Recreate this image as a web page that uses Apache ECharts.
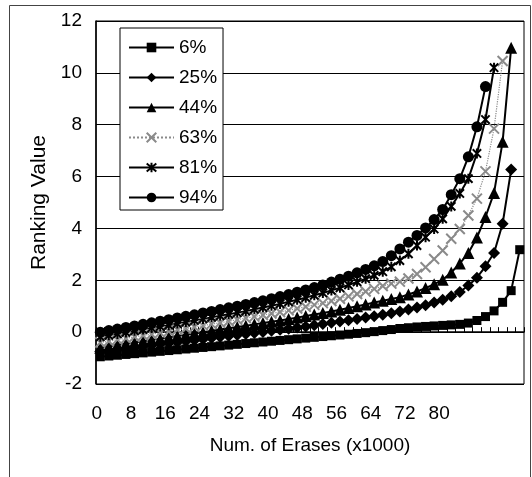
<!DOCTYPE html>
<html>
<head>
<meta charset="utf-8">
<script src="https://cdn.jsdelivr.net/npm/echarts@6/dist/echarts.min.js"></script>
<style>
html,body{margin:0;padding:0;background:#fff;}
#chart{width:532px;height:477px;}
</style>
</head>
<body>
<div id="chart"></div>
<script>
// Categories: Num. of Erases (x1000)
var categories = [0,2,4,6,8,10,12,14,16,18,20,22,24,26,28,30,32,34,36,38,40,42,44,46,48,50,52,54,56,58,60,62,64,66,68,70,72,74,76,78,80,82,84,86,88,90,92,94,96,98];
var xTickLabels = ['0','8','16','24','32','40','48','56','64','72','80'];
var yTicks = [-2,0,2,4,6,8,10,12];
var seriesNames = ['6%','25%','44%','63%','81%','94%'];

var s6 = [-0.95,-0.92,-0.89,-0.86,-0.83,-0.80,-0.77,-0.74,-0.71,-0.68,-0.65,-0.62,-0.59,-0.56,-0.53,-0.50,-0.47,-0.44,-0.41,-0.38,-0.35,-0.32,-0.29,-0.26,-0.23,-0.20,-0.17,-0.14,-0.11,-0.08,-0.05,-0.02,0.02,0.06,0.10,0.14,0.17,0.20,0.22,0.24,0.26,0.28,0.30,0.35,0.45,0.60,0.82,1.15,1.60,3.18];
var s25 = [-0.75,-0.71,-0.67,-0.63,-0.59,-0.55,-0.51,-0.47,-0.43,-0.39,-0.35,-0.31,-0.27,-0.23,-0.19,-0.15,-0.11,-0.07,-0.03,0.01,0.05,0.09,0.13,0.18,0.22,0.27,0.31,0.36,0.41,0.46,0.51,0.56,0.61,0.67,0.73,0.80,0.87,0.95,1.04,1.14,1.25,1.38,1.55,1.80,2.10,2.54,3.05,4.18,6.27];
var s44 = [-0.60,-0.55,-0.50,-0.45,-0.40,-0.35,-0.30,-0.25,-0.20,-0.15,-0.10,-0.05,0.00,0.05,0.10,0.15,0.20,0.25,0.30,0.35,0.40,0.45,0.51,0.56,0.62,0.68,0.74,0.80,0.86,0.93,1.00,1.07,1.14,1.21,1.28,1.35,1.45,1.57,1.70,1.85,2.02,2.30,2.65,3.05,3.65,4.44,5.37,7.34,10.97];
var s63 = [-0.40,-0.35,-0.29,-0.24,-0.18,-0.13,-0.08,-0.02,0.03,0.09,0.14,0.20,0.25,0.31,0.36,0.42,0.48,0.54,0.60,0.66,0.72,0.78,0.84,0.91,0.98,1.05,1.12,1.20,1.29,1.38,1.47,1.57,1.67,1.78,1.87,1.95,2.07,2.24,2.50,2.82,3.15,3.60,3.98,4.50,5.15,6.20,7.85,10.46];
var s81 = [-0.18,-0.12,-0.07,-0.01,0.05,0.10,0.16,0.22,0.27,0.33,0.39,0.45,0.51,0.57,0.63,0.69,0.75,0.81,0.88,0.95,1.02,1.09,1.17,1.25,1.33,1.42,1.51,1.61,1.71,1.82,1.94,2.06,2.19,2.33,2.52,2.76,3.02,3.34,3.66,3.98,4.37,4.85,5.35,5.92,6.89,8.20,10.20];
var s94 = [0.00,0.06,0.12,0.18,0.24,0.30,0.36,0.42,0.48,0.55,0.61,0.67,0.74,0.80,0.87,0.94,1.00,1.07,1.14,1.21,1.29,1.37,1.45,1.54,1.63,1.72,1.82,1.93,2.04,2.16,2.29,2.42,2.56,2.72,2.95,3.21,3.47,3.73,4.02,4.34,4.73,5.30,5.92,6.76,7.92,9.47];

var FONT = '"Liberation Sans", Arial, sans-serif';
var xPath = 'path://M0,0L10,10M10,0L0,10';
var starPath = 'path://M0,0L10,10M10,0L0,10M5,-1L5,11';

function mk(name, data, symbol, size, color, lineType, lw) {
  var isPath = symbol.indexOf('path://') === 0;
  return {
    name: name, type: 'line', data: data,
    symbol: symbol, symbolSize: size, symbolKeepAspect: true,
    showSymbol: true, showAllSymbol: true, animation: false,
    lineStyle: {color: color, width: lw, type: lineType},
    itemStyle: isPath ? {color: color, borderColor: color, borderWidth: 2} : {color: color, borderWidth: 0}
  };
}

var chart = echarts.init(document.getElementById('chart'), null, {renderer: 'canvas'});
chart.setOption({
  backgroundColor: '#fff',
  animation: false,
  textStyle: {fontFamily: FONT},
  graphic: [{
    type: 'rect', silent: true,
    shape: {x: 9.5, y: 5.5, width: 521, height: 490},
    style: {fill: 'none', stroke: '#444', lineWidth: 1}
  }],
  grid: {left: 96, right: 8, top: 21, bottom: 93, show: true, borderColor: '#000', borderWidth: 1, backgroundColor: '#fff'},
  legend: {
    left: 120, top: 28, orient: 'vertical',
    data: seriesNames,
    backgroundColor: '#fff', borderColor: '#000', borderWidth: 1,
    padding: [10, 6, 3, 8],
    itemWidth: 45, itemHeight: 12, itemGap: 11,
    textStyle: {fontSize: 19, color: '#000', fontFamily: FONT, lineHeight: 19}
  },
  xAxis: {
    type: 'category', data: categories, boundaryGap: true,
    name: 'Num. of Erases (x1000)', nameLocation: 'middle', nameGap: 52,
    nameTextStyle: {fontSize: 19, color: '#000', fontFamily: FONT},
    axisLine: {lineStyle: {color: '#000', width: 1.5}},
    axisTick: {show: true, inside: true, length: 5, interval: 0, lineStyle: {color: '#000'}},
    axisLabel: {
      interval: 3, margin: 20, fontSize: 19, color: '#000', fontFamily: FONT,
      padding: [0, 7, 0, 0],
      formatter: function (v) { return xTickLabels.indexOf(String(v)) >= 0 ? String(v) : ''; }
    },
    splitLine: {show: false}
  },
  yAxis: {
    type: 'value', min: yTicks[0], max: yTicks[yTicks.length - 1], interval: 2,
    name: 'Ranking Value', nameLocation: 'middle', nameGap: 46,
    nameTextStyle: {fontSize: 21, color: '#000', fontFamily: FONT},
    axisLine: {show: true, lineStyle: {color: '#000', width: 1.5}},
    axisTick: {show: false},
    axisLabel: {margin: 14, fontSize: 19, color: '#000', fontFamily: FONT},
    splitLine: {show: true, lineStyle: {color: '#000', width: 1}}
  },
  series: [
    mk('6%', s6, 'rect', 9, '#000', 'solid', 2),
    mk('25%', s25, 'diamond', 12, '#000', 'solid', 2),
    mk('44%', s44, 'triangle', 12, '#000', 'solid', 2),
    mk('63%', s63, xPath, 10, '#8a8a8a', 'dotted', 1.2),
    mk('81%', s81, starPath, 10, '#000', 'solid', 2),
    mk('94%', s94, 'circle', 11, '#000', 'solid', 2)
  ]
});
</script>
</body>
</html>
